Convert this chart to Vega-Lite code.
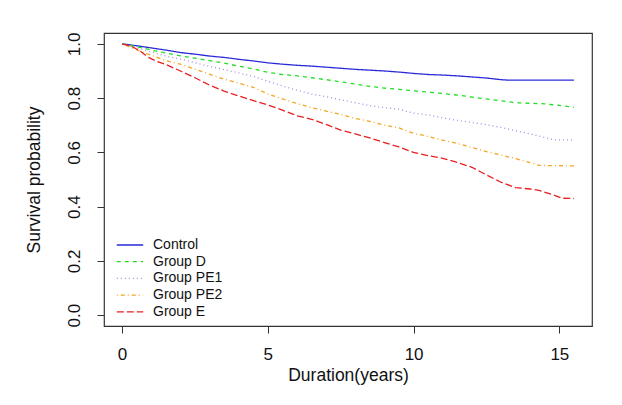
{
  "$schema": "https://vega.github.io/schema/vega-lite/v6.json",
  "width": 488,
  "height": 293,
  "autosize": {"type": "none"},
  "padding": {"left": 104, "top": 33, "right": 30, "bottom": 79},
  "background": "white",
  "config": {
    "font": "Liberation Sans",
    "view": {"stroke": "#333333", "strokeWidth": 1.2},
    "axis": {"labelFont": "Liberation Sans", "titleFont": "Liberation Sans", "labelColor": "#111", "titleColor": "#111", "tickColor": "#333", "titleFontWeight": "normal"}
  },
  "data": {"values": [
    {"g":"Control","t":0,"s":1.0},{"g":"Control","t":0.5,"s":0.993},{"g":"Control","t":1.0,"s":0.985},{"g":"Control","t":1.5,"s":0.977},{"g":"Control","t":2.0,"s":0.968},{"g":"Control","t":2.5,"s":0.962},{"g":"Control","t":3.0,"s":0.955},{"g":"Control","t":3.5,"s":0.95},{"g":"Control","t":4.0,"s":0.943},{"g":"Control","t":4.5,"s":0.937},{"g":"Control","t":5.0,"s":0.93},{"g":"Control","t":5.5,"s":0.925},{"g":"Control","t":6.0,"s":0.921},{"g":"Control","t":6.5,"s":0.918},{"g":"Control","t":7.0,"s":0.914},{"g":"Control","t":7.5,"s":0.91},{"g":"Control","t":8.0,"s":0.906},{"g":"Control","t":8.5,"s":0.903},{"g":"Control","t":9.0,"s":0.9},{"g":"Control","t":9.5,"s":0.896},{"g":"Control","t":10.0,"s":0.891},{"g":"Control","t":10.5,"s":0.887},{"g":"Control","t":11.0,"s":0.885},{"g":"Control","t":11.5,"s":0.882},{"g":"Control","t":12.0,"s":0.878},{"g":"Control","t":12.5,"s":0.874},{"g":"Control","t":13.0,"s":0.868},{"g":"Control","t":13.3,"s":0.866},{"g":"Control","t":15.5,"s":0.866},
    {"g":"Group D","t":0,"s":1.0},{"g":"Group D","t":0.5,"s":0.99},{"g":"Group D","t":1.0,"s":0.977},{"g":"Group D","t":1.5,"s":0.966},{"g":"Group D","t":2.0,"s":0.956},{"g":"Group D","t":2.5,"s":0.947},{"g":"Group D","t":3.0,"s":0.938},{"g":"Group D","t":3.5,"s":0.929},{"g":"Group D","t":4.0,"s":0.918},{"g":"Group D","t":4.5,"s":0.908},{"g":"Group D","t":5.0,"s":0.895},{"g":"Group D","t":5.5,"s":0.887},{"g":"Group D","t":6.0,"s":0.882},{"g":"Group D","t":6.5,"s":0.875},{"g":"Group D","t":7.0,"s":0.868},{"g":"Group D","t":7.5,"s":0.86},{"g":"Group D","t":8.0,"s":0.852},{"g":"Group D","t":8.5,"s":0.843},{"g":"Group D","t":9.0,"s":0.837},{"g":"Group D","t":9.5,"s":0.832},{"g":"Group D","t":10.0,"s":0.827},{"g":"Group D","t":10.5,"s":0.822},{"g":"Group D","t":11.0,"s":0.817},{"g":"Group D","t":11.5,"s":0.811},{"g":"Group D","t":12.0,"s":0.804},{"g":"Group D","t":12.5,"s":0.797},{"g":"Group D","t":13.0,"s":0.79},{"g":"Group D","t":13.5,"s":0.783},{"g":"Group D","t":14.0,"s":0.781},{"g":"Group D","t":14.5,"s":0.779},{"g":"Group D","t":15.0,"s":0.773},{"g":"Group D","t":15.5,"s":0.766},
    {"g":"Group PE1","t":0,"s":1.0},{"g":"Group PE1","t":0.5,"s":0.985},{"g":"Group PE1","t":1.0,"s":0.97},{"g":"Group PE1","t":1.5,"s":0.955},{"g":"Group PE1","t":2.0,"s":0.944},{"g":"Group PE1","t":2.5,"s":0.93},{"g":"Group PE1","t":3.0,"s":0.917},{"g":"Group PE1","t":3.5,"s":0.905},{"g":"Group PE1","t":4.0,"s":0.893},{"g":"Group PE1","t":4.5,"s":0.88},{"g":"Group PE1","t":5.0,"s":0.862},{"g":"Group PE1","t":5.5,"s":0.845},{"g":"Group PE1","t":6.0,"s":0.829},{"g":"Group PE1","t":6.5,"s":0.815},{"g":"Group PE1","t":7.0,"s":0.805},{"g":"Group PE1","t":7.5,"s":0.794},{"g":"Group PE1","t":8.0,"s":0.783},{"g":"Group PE1","t":8.5,"s":0.772},{"g":"Group PE1","t":9.0,"s":0.765},{"g":"Group PE1","t":9.5,"s":0.759},{"g":"Group PE1","t":10.0,"s":0.745},{"g":"Group PE1","t":10.5,"s":0.738},{"g":"Group PE1","t":11.0,"s":0.727},{"g":"Group PE1","t":11.5,"s":0.718},{"g":"Group PE1","t":12.0,"s":0.71},{"g":"Group PE1","t":12.5,"s":0.702},{"g":"Group PE1","t":13.0,"s":0.692},{"g":"Group PE1","t":13.5,"s":0.68},{"g":"Group PE1","t":14.0,"s":0.668},{"g":"Group PE1","t":14.5,"s":0.655},{"g":"Group PE1","t":14.8,"s":0.646},{"g":"Group PE1","t":15.5,"s":0.646},
    {"g":"Group PE2","t":0,"s":1.0},{"g":"Group PE2","t":0.5,"s":0.978},{"g":"Group PE2","t":1.0,"s":0.958},{"g":"Group PE2","t":1.5,"s":0.938},{"g":"Group PE2","t":2.0,"s":0.925},{"g":"Group PE2","t":2.5,"s":0.907},{"g":"Group PE2","t":3.0,"s":0.888},{"g":"Group PE2","t":3.5,"s":0.87},{"g":"Group PE2","t":4.0,"s":0.855},{"g":"Group PE2","t":4.5,"s":0.84},{"g":"Group PE2","t":5.0,"s":0.815},{"g":"Group PE2","t":5.5,"s":0.797},{"g":"Group PE2","t":6.0,"s":0.78},{"g":"Group PE2","t":6.5,"s":0.765},{"g":"Group PE2","t":7.0,"s":0.752},{"g":"Group PE2","t":7.5,"s":0.74},{"g":"Group PE2","t":8.0,"s":0.725},{"g":"Group PE2","t":8.5,"s":0.714},{"g":"Group PE2","t":9.0,"s":0.7},{"g":"Group PE2","t":9.5,"s":0.69},{"g":"Group PE2","t":10.0,"s":0.67},{"g":"Group PE2","t":10.5,"s":0.659},{"g":"Group PE2","t":11.0,"s":0.645},{"g":"Group PE2","t":11.5,"s":0.633},{"g":"Group PE2","t":12.0,"s":0.618},{"g":"Group PE2","t":12.5,"s":0.603},{"g":"Group PE2","t":13.0,"s":0.59},{"g":"Group PE2","t":13.5,"s":0.577},{"g":"Group PE2","t":14.0,"s":0.562},{"g":"Group PE2","t":14.3,"s":0.552},{"g":"Group PE2","t":15.5,"s":0.55},
    {"g":"Group E","t":0,"s":1.0},{"g":"Group E","t":0.3,"s":0.992},{"g":"Group E","t":0.6,"s":0.975},{"g":"Group E","t":0.9,"s":0.95},{"g":"Group E","t":1.2,"s":0.935},{"g":"Group E","t":1.5,"s":0.924},{"g":"Group E","t":2.0,"s":0.9},{"g":"Group E","t":2.5,"s":0.875},{"g":"Group E","t":3.0,"s":0.848},{"g":"Group E","t":3.5,"s":0.826},{"g":"Group E","t":4.0,"s":0.808},{"g":"Group E","t":4.5,"s":0.791},{"g":"Group E","t":5.0,"s":0.775},{"g":"Group E","t":5.5,"s":0.756},{"g":"Group E","t":6.0,"s":0.735},{"g":"Group E","t":6.5,"s":0.722},{"g":"Group E","t":7.0,"s":0.703},{"g":"Group E","t":7.5,"s":0.682},{"g":"Group E","t":8.0,"s":0.668},{"g":"Group E","t":8.5,"s":0.653},{"g":"Group E","t":9.0,"s":0.636},{"g":"Group E","t":9.5,"s":0.62},{"g":"Group E","t":10.0,"s":0.6},{"g":"Group E","t":10.5,"s":0.588},{"g":"Group E","t":11.0,"s":0.578},{"g":"Group E","t":11.5,"s":0.563},{"g":"Group E","t":12.0,"s":0.545},{"g":"Group E","t":12.5,"s":0.517},{"g":"Group E","t":13.0,"s":0.49},{"g":"Group E","t":13.5,"s":0.47},{"g":"Group E","t":14.0,"s":0.465},{"g":"Group E","t":14.3,"s":0.46},{"g":"Group E","t":14.8,"s":0.443},{"g":"Group E","t":15.1,"s":0.431},{"g":"Group E","t":15.5,"s":0.43}
  ]},
  "mark": {"type": "line", "interpolate": "linear", "strokeWidth": 1.3},
  "encoding": {
    "x": {"field": "t", "type": "quantitative",
      "scale": {"domain": [-0.62, 16.12], "nice": false, "zero": false},
      "axis": {"values": [0, 5, 10, 15], "grid": false, "domain": false, "tickSize": 7, "labelFontSize": 17, "labelPadding": 13, "title": "Duration(years)", "titleFontSize": 17.5, "titlePadding": 4}},
    "y": {"field": "s", "type": "quantitative",
      "scale": {"domain": [-0.04, 1.04], "nice": false, "zero": false},
      "axis": {"values": [0, 0.2, 0.4, 0.6, 0.8, 1.0], "format": ".1f", "grid": false, "domain": false, "tickSize": 7, "labelFontSize": 17, "labelAngle": -90, "labelAlign": "center", "labelBaseline": "bottom", "labelPadding": 14, "title": "Survival probability", "titleFontSize": 17.5, "titlePadding": 22}},
    "color": {"field": "g", "type": "nominal",
      "scale": {"domain": ["Control", "Group D", "Group PE1", "Group PE2", "Group E"], "range": ["#2a2ad8", "#22dd22", "#a58be0", "#f5a623", "#e82020"]},
      "legend": {"title": null, "orient": "none", "legendX": 19, "legendY": 205, "symbolType": "M-2.4,0L2.4,0", "symbolSize": 121, "symbolStrokeWidth": 1.3, "labelFontSize": 14, "labelColor": "#111", "labelOffset": 16, "rowPadding": 2.7, "padding": 0}},
    "strokeDash": {"field": "g", "type": "nominal",
      "scale": {"domain": ["Control", "Group D", "Group PE1", "Group PE2", "Group E"], "range": [[1, 0], [4, 4], [1, 3], [1, 3, 4, 3], [7, 3]]},
      "legend": null}
  }
}
